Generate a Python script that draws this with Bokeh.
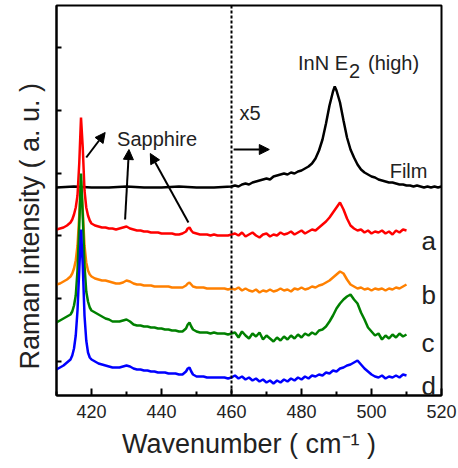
from bokeh.plotting import figure
from bokeh.models import Range1d, FixedTicker, Span, Arrow, NormalHead, Label, Title
from bokeh.embed import file_html
from bokeh.resources import INLINE

# ---------------- data ----------------
wn_lo = [410, 411, 412, 413, 414, 414.5, 415, 415.5, 416, 416.5,
         417, 417.5, 418, 418.5, 419, 419.5, 420, 421, 422, 423,
         424, 425, 426, 427, 428, 429, 430, 431, 432, 433,
         434, 435, 436, 437, 438, 439, 440, 441, 442, 443,
         444, 445, 446, 447, 447.5, 448, 448.5, 449, 450, 451,
         452, 453, 454, 455, 456, 457, 458, 459, 460]
wn_hi = [461, 462, 463, 464, 465, 466, 467, 468, 469, 470,
         471, 472, 473, 474, 475, 476, 477, 478, 479, 480,
         481, 482, 483, 484, 485, 486, 487, 488, 489, 490,
         491, 492, 493, 494, 495, 496, 497, 498, 499, 500,
         501, 502, 503, 504, 505, 506, 507, 508, 509, 510]

a_lo = [166, 167, 168, 170, 173, 176, 181, 188, 200, 232,
        278, 248, 205, 188, 180, 175, 172, 170, 169, 168,
        168, 167, 167, 166, 167, 168, 169, 167, 166, 165,
        165, 164, 164, 163, 163, 163, 162, 162, 162, 162,
        161, 161, 162, 164, 167, 168, 165, 163, 162, 161,
        161, 161, 160, 161, 160, 160, 160, 160, 161]
a_hi = [162, 160, 163, 159, 161, 163, 160, 158, 161, 162,
        159, 161, 160, 163, 161, 162, 164, 161, 163, 165,
        162, 164, 166, 165, 168, 171, 174, 178, 183, 188,
        193, 186, 177, 170, 167, 165, 166, 163, 165, 162,
        164, 163, 165, 162, 164, 161, 165, 163, 166, 165]

b_lo = [111, 112, 114, 116, 119, 122, 127, 135, 150, 180,
        215, 185, 150, 133, 125, 121, 119, 117, 116, 115,
        115, 114, 113, 112, 112, 113, 115, 114, 112, 111,
        111, 110, 110, 110, 109, 109, 109, 109, 109, 108,
        108, 108, 108, 110, 112, 113, 111, 109, 108, 108,
        108, 107, 107, 107, 107, 107, 107, 106, 107]
b_hi = [106, 108, 105, 107, 105, 104, 106, 103, 105, 104,
        106, 104, 105, 107, 105, 106, 104, 107, 106, 108,
        106, 107, 109, 108, 110, 111, 113, 115, 118, 121,
        124, 122, 116, 111, 109, 107, 108, 106, 107, 105,
        107, 106, 107, 105, 107, 106, 108, 107, 109, 111]

c_lo = [73, 75, 77, 79, 81, 84, 90, 100, 125, 170,
        222, 180, 130, 104, 94, 88, 85, 83, 81, 79,
        77, 76, 74, 74, 74, 75, 76, 74, 71, 70,
        70, 69, 69, 68, 68, 67, 67, 66, 66, 65,
        65, 64, 64, 67, 71, 73, 69, 66, 64, 63,
        63, 63, 62, 63, 62, 62, 62, 61, 62]
c_hi = [63, 58, 64, 60, 57, 62, 59, 63, 56, 60,
        57, 54, 58, 55, 59, 56, 60, 57, 61, 58,
        62, 60, 63, 61, 65, 66, 69, 74, 80, 87,
        92, 96, 99, 101, 96, 92, 83, 76, 68, 64,
        60, 62, 56, 60, 57, 61, 58, 62, 59, 61]

d_lo = [26, 28, 30, 33, 36, 40, 47, 60, 85, 125,
        166, 130, 80, 55, 43, 38, 36, 34, 32, 31,
        30, 29, 28, 28, 28, 29, 30, 29, 27, 26,
        26, 25, 25, 24, 24, 23, 23, 23, 22, 22,
        22, 21, 21, 24, 27, 28, 24, 21, 19, 19,
        19, 18, 18, 18, 18, 18, 18, 17, 18]
d_hi = [20, 17, 19, 16, 18, 15, 17, 14, 16, 13,
        15, 12, 15, 13, 16, 14, 17, 15, 18, 16,
        19, 17, 20, 19, 21, 20, 23, 22, 25, 24,
        27, 28, 30, 31, 33, 35, 31, 27, 24, 21,
        19, 18, 20, 17, 19, 18, 20, 18, 21, 20]

film_wn = [410, 415, 420, 425, 430, 435, 440, 445, 450, 455, 460,
           461, 462, 463, 464, 465, 466, 467, 468, 469, 470,
           471, 472, 473, 474, 475, 476, 477, 478, 479, 480,
           481, 482, 483, 484, 485, 486, 487, 488, 489, 489.5,
           490, 491, 492, 493, 494, 495, 496, 497, 498, 499, 500,
           501, 502, 503, 504, 505, 506, 507, 508, 509, 510,
           511, 512, 513, 514, 515, 516, 517, 518, 519, 520]
film = [208, 209, 208, 208, 209, 208, 208, 209, 208, 208, 209,
        210, 209, 211, 212, 211, 213, 214, 215, 216, 217,
        216, 219, 220, 221, 222, 221, 223, 222, 224, 225,
        227, 229, 232, 237, 245, 256, 272, 290, 304, 309,
        305, 293, 275, 258, 246, 238, 231, 226, 223, 221, 219,
        218, 216, 215, 214, 213, 213, 212, 211, 211, 210,
        210, 209, 210, 209, 208, 209, 208, 209, 208, 209]

x_ticks = [420, 440, 460, 480, 500, 520]
x_minor = [410, 430, 450, 470, 490, 510]
y_ticks = [34, 97, 160, 222, 285, 348]

series = [("a", a_lo + a_hi, "#ff0000"),
          ("b", b_lo + b_hi, "#ff8000"),
          ("c", c_lo + c_hi, "#008000"),
          ("d", d_lo + d_hi, "#0000ff")]

FONT = "Liberation Sans"
TXT = "#222222"

p = figure(width=458, height=468,
           x_range=Range1d(410, 520), y_range=Range1d(0, 390),
           output_backend="svg", toolbar_location=None,
           min_border_left=54, min_border_right=17,
           min_border_top=5, min_border_bottom=73,
           background_fill_color="white", border_fill_color="white")
p.xgrid.visible = False
p.ygrid.visible = False
p.outline_line_color = "black"
p.outline_line_width = 2

# x axis
xa = p.xaxis[0]
xa.ticker = FixedTicker(ticks=x_ticks, minor_ticks=x_minor)
xa.major_tick_in = 7
xa.major_tick_out = 0
xa.minor_tick_in = 4
xa.minor_tick_out = 0
xa.major_tick_line_width = 2
xa.minor_tick_line_width = 2
xa.axis_line_width = 2
xa.major_label_text_font = FONT
xa.major_label_text_font_size = "18px"
xa.major_label_text_color = TXT
xa.major_label_standoff = 9
xa.axis_label = "Wavenumber ( cm\u207b\u00b9 )"
xa.axis_label_text_font = FONT
xa.axis_label_text_font_size = "27px"
xa.axis_label_text_font_style = "normal"
xa.axis_label_text_color = TXT
xa.axis_label_standoff = 8

# y axis (ticks only, no labels)
ya = p.yaxis[0]
ya.ticker = FixedTicker(ticks=y_ticks, minor_ticks=[])
ya.major_tick_in = 5
ya.major_tick_out = 0
ya.minor_tick_line_color = None
ya.major_tick_line_width = 2
ya.axis_line_width = 2
ya.major_label_text_font_size = "1px"
ya.major_label_text_color = None
ya.major_label_standoff = 0

# y axis title as a left-side title
p.add_layout(Title(text="Raman intensity ( a. u. )", align="left", offset=26,
                   text_font=FONT, text_font_size="27px", text_font_style="normal",
                   text_color=TXT, standoff=24), "left")

# curves
p.line(film_wn, film, line_color="black", line_width=2.5)
for name, ys, col in series:
    p.line(wn_lo + wn_hi, ys, line_color=col, line_width=2.5)

# dashed divider
p.add_layout(Span(location=460, dimension="height", line_color="black",
                  line_width=2, line_dash="3 2"))

def arrow(x0, y0, x1, y1):
    p.add_layout(Arrow(end=NormalHead(size=10, fill_color="black", line_color="black", line_width=1),
                       x_start=x0, y_start=y0, x_end=x1, y_end=y1,
                       line_color="black", line_width=2))

arrow(418.5, 238, 423.9, 263)
arrow(429.6, 176, 430.7, 246)
arrow(447.7, 173, 436.8, 242)
arrow(460.6, 246, 470.8, 246)

def label(x, y, text, size="20px", **kw):
    p.add_layout(Label(x=x, y=y, text=text, text_font=FONT, text_font_size=size,
                       text_color=TXT, text_baseline="alphabetic", **kw))

label(427.3, 257, "Sapphire")
label(462.3, 283, "x5")
label(479.0, 333, "InN E")
label(493.6, 325, "2")
label(499.0, 333, "(high)")
label(505.2, 225, "Film")
for (name, _, _), yy in zip(series, [155, 101, 53, 10]):
    label(514.3, yy, name, size="26px")

open("out.html", "w").write(file_html(p, INLINE))
